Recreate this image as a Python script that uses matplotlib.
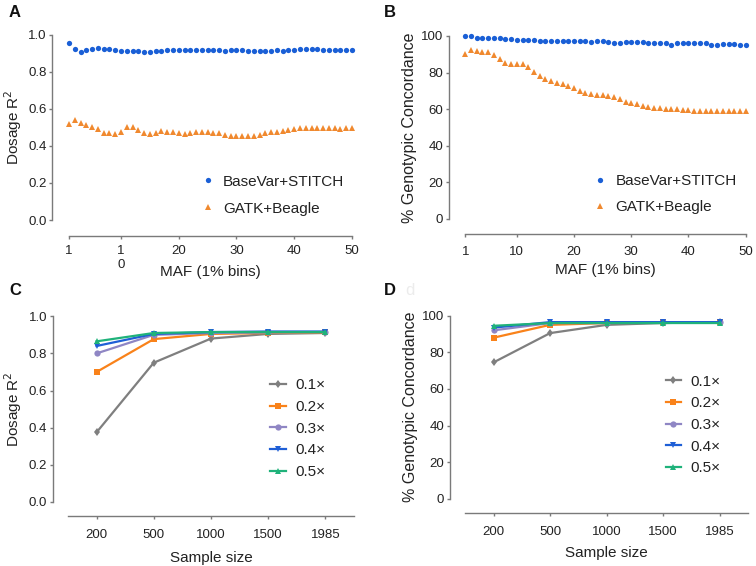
import numpy as np
import matplotlib
matplotlib.use('Agg')
import matplotlib.pyplot as plt

plt.rcParams['font.family'] = ['Liberation Sans', 'DejaVu Sans']

# MAF bins (1% bins)
maf = np.arange(1, 51)

a_stitch = [0.955, 0.925, 0.91, 0.92, 0.925, 0.928, 0.926, 0.923, 0.918, 0.915,
            0.915, 0.915, 0.913, 0.91, 0.91, 0.912, 0.916, 0.918, 0.918, 0.918,
            0.92, 0.92, 0.92, 0.921, 0.92, 0.92, 0.918, 0.916, 0.918, 0.918,
            0.918, 0.914, 0.915, 0.915, 0.915, 0.915, 0.917, 0.916, 0.918, 0.921,
            0.924, 0.922, 0.922, 0.922, 0.921, 0.92, 0.919, 0.918, 0.918, 0.918]
a_beagle = [0.52, 0.54, 0.525, 0.515, 0.50, 0.49, 0.47, 0.47, 0.465, 0.475,
            0.50, 0.50, 0.485, 0.47, 0.465, 0.47, 0.48, 0.475, 0.475, 0.47,
            0.465, 0.47, 0.475, 0.478, 0.478, 0.472, 0.47, 0.462, 0.455, 0.455,
            0.455, 0.455, 0.455, 0.46, 0.472, 0.475, 0.478, 0.48, 0.485, 0.49,
            0.495, 0.498, 0.497, 0.495, 0.495, 0.495, 0.495, 0.49, 0.495, 0.495]

b_stitch = [100, 100, 99, 99, 99, 99, 99, 98.5, 98.5, 98,
            98, 98, 98, 97.5, 97.5, 97.5, 97.5, 97.5, 97, 97,
            97, 97, 96.5, 97, 97, 96.5, 96, 96, 96.5, 96.5,
            96.5, 96.5, 96, 96, 96, 96, 95, 96, 96, 96,
            96, 96, 96, 95, 95, 95.5, 95.5, 95.5, 95, 95]
b_beagle = [90, 92.5, 92, 91.5, 91, 89.5, 87.5, 85.5, 84.5, 84.5,
            84.5, 83, 80.5, 78, 76.5, 75.5, 74.5, 73.5, 72.5, 71.5,
            70, 69, 68.5, 68, 67.5, 67, 66.5, 65.5, 64, 63.5,
            63, 62, 61, 60.5, 60.5, 60, 60, 60, 59.5, 59.5,
            59, 59, 59, 59, 58.8, 59, 59, 58.8, 58.8, 58.8]

# sample size panels
sizes = ['200', '500', '1000', '1500', '1985']
depths = ['0.1×', '0.2×', '0.3×', '0.4×', '0.5×']
c_r2 = [
    [0.375, 0.75, 0.88, 0.905, 0.91],
    [0.70, 0.877, 0.905, 0.91, 0.913],
    [0.80, 0.90, 0.91, 0.913, 0.915],
    [0.84, 0.905, 0.915, 0.918, 0.918],
    [0.865, 0.91, 0.915, 0.915, 0.915],
]
d_conc = [
    [74.5, 90.5, 95, 96, 96.5],
    [88, 95, 96, 96.5, 96.5],
    [92, 96, 96, 96.5, 96.5],
    [93.5, 96.5, 96.5, 96.5, 96.5],
    [94.5, 96, 96, 96, 96],
]

blue = '#1a5fd6'
orange = '#f0892f'
line_colors = ['#7f7f7f', '#f9821a', '#8f86c4', '#1f5fd6', '#1fb27a']
line_markers = ['d', 's', 'o', 'v', '^']
spine_col = '#7a7a7a'
txt_col = '#222222'


def style(ax, left_out, bottom_out, xpad):
    ax.spines['top'].set_visible(False)
    ax.spines['right'].set_visible(False)
    ax.spines['left'].set_position(('outward', left_out))
    ax.spines['bottom'].set_position(('outward', bottom_out))
    for s in ['left', 'bottom']:
        ax.spines[s].set_color(spine_col)
        ax.spines[s].set_linewidth(1.0)
    ax.tick_params(colors=spine_col, labelcolor=txt_col, labelsize=9.5,
                   length=2.5, width=1.0, pad=1.5)
    ax.tick_params(axis='x', pad=xpad)


fig = plt.figure(figsize=(7.56, 5.66), dpi=100)

# Panel A
ax = fig.add_axes([0.0913, 0.6113, 0.3743, 0.3269])
ax.plot(maf, a_stitch, 'o', color=blue, ms=3.8, mew=0, clip_on=False, label='BaseVar+STITCH')
ax.plot(maf, a_beagle, '^', color=orange, ms=4.0, mew=0, clip_on=False, label='GATK+Beagle')
ax.set_xlim(1, 50)
ax.set_ylim(0, 1.0)
ax.set_yticks([0, 0.2, 0.4, 0.6, 0.8, 1.0])
ax.set_yticklabels(['0.0', '0.2', '0.4', '0.6', '0.8', '1.0'])
ax.set_xticks([1, 10, 20, 30, 40, 50])
ax.set_xticklabels(['1', '1\n0', '20', '30', '40', '50'], linespacing=2.7)
style(ax, 12.2, 11.5, 4.0)
ax.set_ylabel('Dosage R$^2$', fontsize=11, color=txt_col, labelpad=3)
ax.set_xlabel('MAF (1% bins)', fontsize=11, color=txt_col, labelpad=-4)
ax.legend(loc='upper left', bbox_to_anchor=(0.41, 0.32), frameon=False, fontsize=11,
          handletextpad=0.4, labelspacing=0.85, handlelength=1.2, labelcolor=txt_col)

# Panel B
ax = fig.add_axes([0.6155, 0.6131, 0.3709, 0.3233])
ax.plot(maf, b_stitch, 'o', color=blue, ms=3.8, mew=0, clip_on=False, label='BaseVar+STITCH')
ax.plot(maf, b_beagle, '^', color=orange, ms=4.0, mew=0, clip_on=False, label='GATK+Beagle')
ax.set_xlim(1, 50)
ax.set_ylim(0, 100)
ax.set_yticks([0, 20, 40, 60, 80, 100])
ax.set_xticks([1, 10, 20, 30, 40, 50])
style(ax, 12.0, 10.8, 6.0)
ax.set_ylabel('% Genotypic Concordance', fontsize=11.5, color=txt_col, labelpad=3)
ax.set_xlabel('MAF (1% bins)', fontsize=11, color=txt_col, labelpad=3.5)
ax.legend(loc='upper left', bbox_to_anchor=(0.40, 0.32), frameon=False, fontsize=11,
          handletextpad=0.4, labelspacing=0.8, handlelength=1.2, labelcolor=txt_col)

# Panel C
ax = fig.add_axes([0.0899, 0.1131, 0.3783, 0.3281])
xs = np.arange(len(sizes))
for i in range(len(depths)):
    ax.plot(xs, c_r2[i], marker=line_markers[i], color=line_colors[i], lw=1.6,
            ms=4.5, mew=0, label=depths[i])
ax.set_xlim(-0.5, 4.5)
ax.set_ylim(0, 1.0)
ax.set_xticks(xs)
ax.set_xticklabels(sizes)
ax.set_yticks([0, 0.2, 0.4, 0.6, 0.8, 1.0])
ax.set_yticklabels(['0.0', '0.2', '0.4', '0.6', '0.8', '1.0'])
style(ax, 11.0, 10.3, 6.5)
ax.set_ylabel('Dosage R$^2$', fontsize=11, color=txt_col, labelpad=3)
ax.set_xlabel('Sample size', fontsize=11, color=txt_col, labelpad=7)
ax.legend(loc='upper left', bbox_to_anchor=(0.66, 0.74), frameon=False, fontsize=11,
          handletextpad=0.65, labelspacing=0.5, handlelength=1.0, labelcolor=txt_col)

# Panel D
ax = fig.add_axes([0.6155, 0.1189, 0.3739, 0.3233])
for i in range(len(depths)):
    ax.plot(xs, d_conc[i], marker=line_markers[i], color=line_colors[i], lw=1.6,
            ms=4.5, mew=0, label=depths[i])
ax.set_xlim(-0.5, 4.5)
ax.set_ylim(0, 100)
ax.set_xticks(xs)
ax.set_xticklabels(sizes)
ax.set_yticks([0, 20, 40, 60, 80, 100])
style(ax, 11.2, 10.3, 6.5)
ax.set_ylabel('% Genotypic Concordance', fontsize=11.5, color=txt_col, labelpad=3)
ax.set_xlabel('Sample size', fontsize=11, color=txt_col, labelpad=6)
ax.legend(loc='upper left', bbox_to_anchor=(0.66, 0.752), frameon=False, fontsize=11,
          handletextpad=0.65, labelspacing=0.5, handlelength=1.0, labelcolor=txt_col)

# panel letters
for x, y, s in [(0.012, 0.978, 'A'), (0.508, 0.978, 'B'), (0.012, 0.487, 'C'), (0.508, 0.487, 'D')]:
    fig.text(x, y, s, fontsize=12, fontweight='bold', color='#111111', va='center')
fig.text(0.536, 0.487, 'd', fontsize=12, color='#ececec', va='center')

fig.savefig('out.png', dpi=100)
